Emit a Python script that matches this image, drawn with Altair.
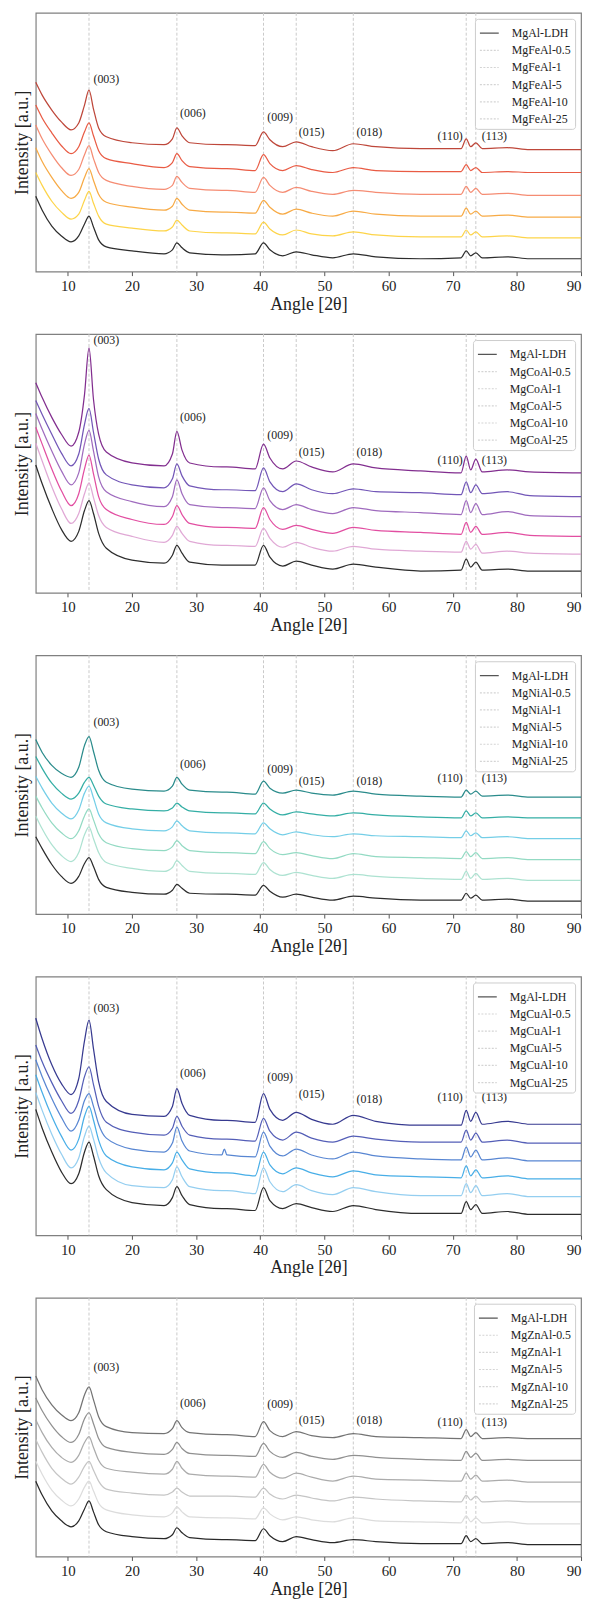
import altair as alt
import pandas as pd

# ---------------- shared data ----------------
ANGLES = [5, 6, 7.5, 9, 10.5, 11.7, 12.6, 13.3, 14.0, 14.8, 16, 20, 25, 26.3, 27.0, 27.8, 29,
          34.0, 34.4, 34.8, 39.2, 40.5, 41.5, 43.5, 45.6, 48, 51.3, 54.5, 58, 65, 71.3, 72.1,
          72.8, 73.6, 74.6, 78.5, 82, 90]
TICKS = [10, 20, 30, 40, 50, 60, 70, 80, 90]
PEAK_POS = [13.3, 27.0, 40.5, 45.6, 54.5, 72.1, 73.6]
PEAK_LABELS = ["(003)", "(006)", "(009)", "(015)", "(018)", "(110)", "(113)"]
LABEL_X = [16.0, 29.5, 43.1, 48.0, 57.0, 69.6, 76.5]
SUFFIXES = ["0.5", "1", "5", "10", "25"]

# ---------------- panel 1: Fe ----------------
FE_COLORS = ["#222222", "#fdd23f", "#f7a53b", "#f4866b", "#e8523a", "#bb3d2f"]
FE_LDH = [76, 62, 46, 36, 30, 36, 48, 56, 45, 32, 25, 21, 18, 22, 29, 24, 19, 17, 17, 17, 18, 29, 22, 16, 20, 17, 14, 18, 15, 13, 14, 21, 16, 19, 14, 15, 13, 13]
FE_05 = [100, 87, 71, 60, 53, 58, 72, 81, 69, 56, 48, 44, 41, 45, 52, 47, 41, 39, 39, 39, 38, 50, 43, 37, 42, 38, 36, 40, 37, 35, 35, 42, 37, 40, 35, 36, 34, 34]
FE_1 = [125, 111, 95, 82, 74, 80, 95, 104, 92, 78, 70, 65, 62, 66, 74, 68, 62, 60, 60, 60, 59, 72, 65, 58, 63, 59, 56, 61, 58, 56, 56, 64, 58, 61, 56, 57, 55, 55]
FE_5 = [148, 134, 118, 105, 97, 103, 118, 127, 114, 100, 92, 86, 83, 87, 96, 90, 84, 82, 82, 82, 80, 95, 87, 80, 85, 81, 78, 82, 80, 78, 78, 86, 80, 84, 78, 79, 77, 77]
FE_10 = [168, 155, 140, 127, 119, 126, 141, 150, 137, 122, 114, 109, 105, 110, 119, 112, 106, 104, 104, 104, 102, 118, 109, 102, 107, 103, 100, 105, 102, 101, 101, 108, 102, 105, 100, 101, 100, 100]
FE_25 = [191, 178, 163, 151, 143, 150, 168, 183, 164, 145, 136, 130, 128, 134, 145, 137, 130, 128, 128, 128, 127, 141, 133, 126, 131, 126, 122, 129, 126, 124, 124, 134, 126, 130, 124, 125, 123, 123]
FE_LABEL_Y = [194, 160, 156, 141, 141, 137, 137]

# ---------------- panel 2: Co ----------------
CO_COLORS = ["#222222", "#dea3d3", "#e0449c", "#9a63ba", "#6a4db3", "#7b2389"]
CO_LDH = [129, 110, 85, 64, 52, 62, 83, 93, 80, 60, 45, 33, 30, 38, 48, 40, 31, 28, 28, 28, 28, 48, 36, 27, 32, 28, 24, 29, 26, 22, 23, 34, 26, 31, 23, 24, 22, 22]
CO_05 = [151, 133, 107, 85, 70, 80, 100, 111, 96, 78, 66, 57, 51, 58, 67, 60, 52, 48, 48, 48, 47, 65, 55, 46, 51, 46, 42, 47, 44, 42, 41, 52, 44, 49, 40, 42, 40, 39]
CO_1 = [167, 150, 125, 103, 88, 100, 125, 139, 120, 97, 84, 74, 69, 77, 88, 79, 70, 66, 66, 66, 65, 86, 74, 64, 68, 64, 60, 66, 63, 61, 59, 71, 61, 67, 59, 61, 58, 57]
CO_5 = [181, 165, 143, 123, 109, 121, 150, 164, 143, 117, 102, 92, 87, 97, 114, 100, 89, 86, 86, 86, 85, 106, 93, 84, 89, 84, 80, 86, 83, 81, 79, 93, 81, 90, 79, 82, 78, 77]
CO_10 = [194, 180, 160, 141, 128, 140, 170, 186, 162, 135, 119, 109, 106, 115, 130, 118, 108, 104, 104, 104, 103, 126, 112, 102, 110, 104, 100, 105, 102, 101, 99, 112, 101, 109, 100, 102, 98, 97]
CO_25 = [212, 197, 177, 160, 148, 162, 200, 247, 195, 160, 142, 131, 128, 140, 163, 144, 131, 127, 127, 127, 125, 150, 136, 125, 133, 127, 122, 130, 126, 123, 121, 138, 124, 135, 122, 124, 122, 121]
CO_LABEL_Y = [255, 177, 159, 142, 142, 134, 134]

# ---------------- panel 3: Ni ----------------
NI_COLORS = ["#222222", "#a9e0cf", "#8dd8c0", "#6dcbe6", "#29aaa0", "#1f8585"]
NI_LDH = [78, 66, 50, 38, 31, 38, 51, 57, 48, 35, 27, 22, 20, 24, 30, 26, 21, 20, 20, 20, 19, 29, 23, 17, 20, 17, 14, 18, 16, 14, 14, 21, 16, 19, 14, 15, 13, 13]
NI_05 = [99, 86, 70, 59, 53, 62, 80, 88, 76, 62, 52, 46, 43, 47, 54, 49, 43, 41, 41, 41, 40, 52, 45, 39, 42, 39, 36, 40, 38, 36, 35, 43, 36, 41, 35, 36, 34, 34]
NI_1 = [119, 107, 92, 82, 76, 84, 99, 106, 95, 81, 72, 66, 64, 68, 74, 69, 64, 62, 62, 62, 61, 73, 66, 60, 62, 59, 56, 61, 58, 57, 56, 63, 58, 62, 56, 57, 55, 55]
NI_5 = [139, 127, 112, 102, 96, 105, 122, 129, 117, 101, 92, 86, 84, 88, 94, 89, 84, 82, 82, 82, 81, 92, 86, 80, 83, 80, 78, 81, 79, 78, 77, 84, 79, 82, 77, 78, 76, 76]
NI_10 = [159, 147, 132, 122, 116, 122, 133, 138, 130, 119, 111, 106, 104, 107, 112, 108, 104, 102, 102, 102, 101, 112, 106, 100, 103, 101, 99, 102, 100, 98, 97, 104, 99, 102, 97, 98, 97, 97]
NI_25 = [176, 163, 150, 142, 138, 148, 170, 179, 164, 145, 133, 126, 124, 129, 138, 131, 125, 123, 123, 123, 121, 134, 127, 122, 125, 122, 120, 124, 121, 119, 118, 125, 121, 124, 119, 120, 118, 118]
NI_LABEL_Y = [194, 151, 146, 134, 134, 137, 137]

# ---------------- panel 4: Cu ----------------
CU_COLORS = ["#222222", "#8ecbef", "#3eaae6", "#4f80d0", "#4b55b3", "#2c2f8a"]
CU_LDH = [127, 108, 84, 64, 52, 62, 84, 94, 80, 60, 46, 33, 30, 38, 49, 40, 31, 27, 27, 27, 25, 48, 35, 27, 32, 28, 24, 30, 26, 22, 22, 34, 26, 31, 22, 24, 21, 21]
CU_05 = [144, 126, 102, 82, 68, 78, 100, 110, 97, 78, 63, 50, 48, 56, 69, 59, 49, 45, 45, 45, 42, 68, 54, 44, 51, 45, 41, 48, 44, 40, 40, 52, 43, 50, 40, 42, 39, 39]
CU_1 = [162, 144, 120, 100, 86, 97, 120, 130, 116, 96, 80, 69, 66, 73, 84, 76, 67, 63, 63, 63, 60, 84, 71, 62, 68, 63, 59, 65, 61, 59, 58, 70, 60, 66, 58, 60, 57, 57]
CU_5 = [177, 160, 138, 119, 105, 116, 136, 143, 130, 112, 98, 87, 84, 93, 109, 95, 85, 81, 87, 81, 79, 104, 90, 80, 87, 81, 77, 84, 80, 77, 76, 89, 79, 86, 76, 78, 75, 75]
CU_10 = [192, 175, 154, 136, 123, 136, 160, 170, 152, 130, 114, 104, 101, 108, 120, 110, 101, 97, 97, 97, 95, 118, 105, 96, 104, 98, 94, 100, 97, 94, 94, 106, 96, 103, 94, 96, 93, 93]
CU_25 = [219, 198, 172, 153, 142, 158, 196, 217, 188, 155, 135, 122, 120, 130, 148, 133, 121, 116, 116, 116, 114, 143, 127, 116, 124, 117, 112, 121, 115, 111, 111, 126, 115, 124, 112, 115, 112, 112]
CU_LABEL_Y = [229, 164, 160, 142, 137, 139, 139]

# ---------------- panel 5: Zn ----------------
ZN_COLORS = ["#1e1e1e", "#dadada", "#c2c2c2", "#a6a6a6", "#8a8a8a", "#6c6c6c"]
ZN_LDH = [76, 62, 46, 36, 30, 36, 48, 56, 45, 32, 25, 20, 18, 22, 29, 24, 19, 17, 17, 17, 16, 28, 21, 15, 20, 17, 14, 17, 15, 13, 13, 21, 15, 18, 13, 14, 12, 12]
ZN_05 = [96, 83, 67, 57, 51, 58, 70, 76, 66, 54, 47, 42, 40, 44, 50, 45, 40, 39, 39, 39, 38, 49, 43, 37, 40, 37, 35, 39, 36, 35, 34, 41, 35, 39, 34, 35, 33, 33]
ZN_1 = [118, 105, 89, 79, 73, 80, 91, 96, 87, 76, 68, 64, 62, 65, 69, 65, 61, 61, 61, 61, 60, 69, 63, 58, 62, 59, 56, 60, 58, 56, 55, 62, 57, 61, 55, 56, 55, 55]
ZN_5 = [138, 125, 110, 100, 95, 102, 115, 121, 110, 97, 89, 85, 83, 88, 96, 89, 83, 81, 81, 81, 80, 93, 85, 79, 84, 80, 76, 81, 78, 77, 76, 84, 78, 82, 76, 77, 75, 75]
ZN_10 = [160, 147, 132, 121, 115, 123, 139, 145, 134, 119, 110, 105, 103, 108, 115, 109, 104, 102, 102, 102, 101, 114, 106, 100, 105, 101, 98, 102, 100, 98, 97, 106, 100, 104, 97, 98, 97, 97]
ZN_25 = [182, 168, 153, 143, 137, 145, 163, 171, 158, 141, 131, 125, 124, 129, 137, 130, 125, 123, 123, 123, 121, 136, 127, 121, 126, 122, 120, 124, 121, 120, 119, 128, 121, 125, 119, 120, 119, 119]
ZN_LABEL_Y = [191, 155, 154, 138, 138, 136, 136]

LEGEND_COLORS = ["#555555", "#d4d4d4", "#d4d4d4", "#d4d4d4", "#d4d4d4", "#d4d4d4"]
LEGEND_DASH = [[1, 0], [2, 1.5], [2, 1.5], [2, 1.5], [2, 1.5], [2, 1.5]]

FONT = "Liberation Serif"
Y_MAX = 261


def make_panel(metal, colors, series, label_y):
    names = ["MgAl-LDH"] + [f"Mg{metal}Al-{s}" for s in SUFFIXES]
    rows = []
    for name, vals in zip(names, series):
        assert len(vals) == len(ANGLES), (name, len(vals))
        for a, v in zip(ANGLES, vals):
            rows.append({"angle": a, "intensity": v, "series": name})
    df = pd.DataFrame(rows)

    xenc = alt.X("angle:Q", scale=alt.Scale(domain=[5, 90], nice=False, zero=False),
                 axis=alt.Axis(title="Angle [2θ]", values=TICKS, format="d"))
    yenc = alt.Y("intensity:Q", scale=alt.Scale(domain=[0, Y_MAX], nice=False, zero=False),
                 axis=alt.Axis(title="Intensity [a.u.]", labels=False, ticks=False,
                               domain=False, grid=False))

    rules = alt.Chart(pd.DataFrame({"angle": PEAK_POS})).mark_rule(
        color="#c9c9c9", strokeDash=[3, 2], strokeWidth=1
    ).encode(x=xenc)

    lines = alt.Chart(df).mark_line(strokeWidth=1.25, interpolate="monotone", opacity=0.95).encode(
        x=xenc, y=yenc,
        color=alt.Color("series:N", scale=alt.Scale(domain=names, range=colors), legend=None),
        detail="series:N",
    )

    lab_df = pd.DataFrame({"angle": LABEL_X, "intensity": label_y, "label": PEAK_LABELS})
    labels = alt.Chart(lab_df).mark_text(
        font=FONT, fontSize=12, color="#222222", align="center", baseline="middle"
    ).encode(x=xenc, y=yenc, text="label:N")

    leg = alt.Legend(
        title=None, orient="top-right", offset=6, fillColor="white", strokeColor="#cccccc",
        cornerRadius=3, padding=4, symbolType="stroke", symbolSize=361,
        symbolStrokeWidth=1.2, symbolOpacity=1, labelFont=FONT, labelFontSize=12,
        labelColor="#222222", labelOffset=12, rowPadding=0.3,
    )
    legend_layer = alt.Chart(df).mark_line(opacity=0, interpolate="monotone").encode(
        x=xenc, y=yenc,
        color=alt.Color("series:N", scale=alt.Scale(domain=names, range=LEGEND_COLORS), legend=leg),
        strokeDash=alt.StrokeDash("series:N", scale=alt.Scale(domain=names, range=LEGEND_DASH), legend=leg),
    )

    return alt.layer(rules, lines, labels, legend_layer).resolve_scale(
        color="independent", strokeDash="independent"
    ).properties(width=550, height=Y_MAX)


panels = [
    make_panel("Fe", FE_COLORS, [FE_LDH, FE_05, FE_1, FE_5, FE_10, FE_25], FE_LABEL_Y),
    make_panel("Co", CO_COLORS, [CO_LDH, CO_05, CO_1, CO_5, CO_10, CO_25], CO_LABEL_Y),
    make_panel("Ni", NI_COLORS, [NI_LDH, NI_05, NI_1, NI_5, NI_10, NI_25], NI_LABEL_Y),
    make_panel("Cu", CU_COLORS, [CU_LDH, CU_05, CU_1, CU_5, CU_10, CU_25], CU_LABEL_Y),
    make_panel("Zn", ZN_COLORS, [ZN_LDH, ZN_05, ZN_1, ZN_5, ZN_10, ZN_25], ZN_LABEL_Y),
]

chart = alt.vconcat(*panels, spacing=18).properties(
    padding={"top": -4, "left": 5, "right": 0, "bottom": 0}
).configure_view(
    stroke="#808080", strokeWidth=1.2
).configure_axis(
    labelFont=FONT, titleFont=FONT, titleFontWeight="normal", labelColor="#222222",
    titleColor="#222222", grid=False, domain=False
).configure_axisX(
    tickSize=4, tickColor="#555555", labelFontSize=15, titleFontSize=18,
    labelPadding=3, titlePadding=2
).configure_axisY(
    titleFontSize=18, titlePadding=4
)

chart.save("out.html", embed_options={"renderer": "svg", "actions": False})
